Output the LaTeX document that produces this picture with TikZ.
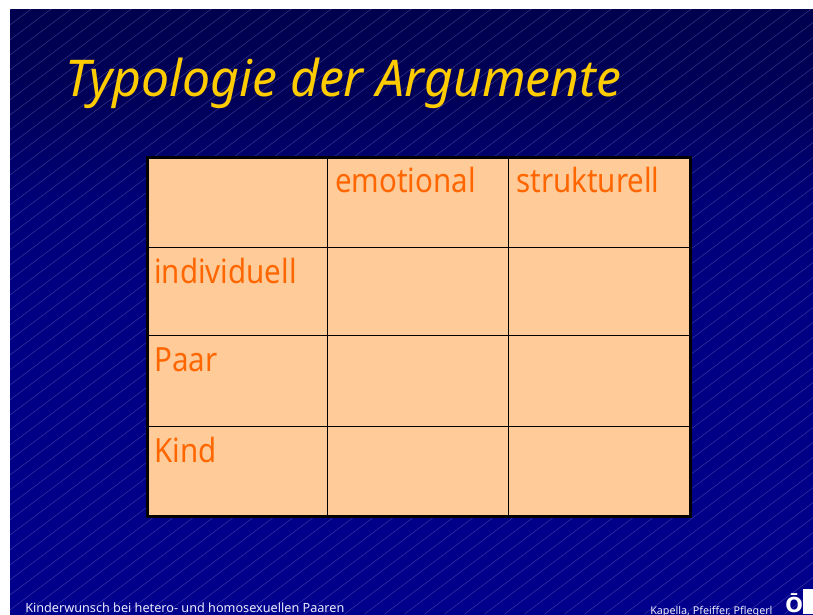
\documentclass[tikz,border=0pt]{standalone}
\usepackage{fontspec}
\setmainfont{Noto Sans}
\newfontfamily\cellfont[FakeStretch=0.885]{Noto Sans}
\newfontfamily\titlefont[FakeStretch=0.985]{Noto Sans}
\newfontfamily\logofont{DejaVu Sans}
\definecolor{titley}{HTML}{FFCC00}
\definecolor{cellf}{HTML}{FFCC99}
\definecolor{cellt}{HTML}{FF6600}
\definecolor{stripe}{HTML}{8080C0}
\pgfdeclareverticalshading{slidebg}{100bp}{
  color(0bp)=(blue!55!black);
  color(25bp)=(blue!55!black);
  color(51bp)=(blue!51!black);
  color(59bp)=(blue!47!black);
  color(67.5bp)=(blue!35!black);
  color(75bp)=(blue!31!black);
  color(100bp)=(blue!31!black)}
\tikzset{
  x=0.75pt,y=-0.75pt,
  celltext/.style={anchor=base west,inner sep=0pt,text=cellt,font=\cellfont\fontsize{25}{30}\selectfont},
  foot/.style={anchor=base west,inner sep=0pt,text=white!92!blue},
  hairline/.style={black,line width=0.75pt},
  stripeline/.style={stripe,line width=0.3pt,opacity=0.5}
}
\begin{document}
\begin{tikzpicture}
\useasboundingbox (0,0) rectangle (813,614);
\clip (0,0) rectangle (813,614);
\fill[white] (0,0) rectangle (813,614);
\shade[shading=slidebg] (10,9) rectangle (813,614);
\begin{scope}
\clip (10,9) rectangle (813,614);
\foreach \i in {-45,...,41}
  \draw[stripeline] ({\i*20+4.5},614) -- ++(840,-630);
\end{scope}
\node[anchor=base west,inner sep=0pt,text=titley,font=\titlefont\fontsize{38}{44}\selectfont\itshape] (title) at (65,96) {Typologie der Argumente};
\fill[cellf] (147,157) rectangle (690,516);
\draw[hairline] (327,157) -- (327,516);
\draw[hairline] (508,157) -- (508,516);
\draw[hairline] (147,247) -- (690,247);
\draw[hairline] (147,335) -- (690,335);
\draw[hairline] (147,426) -- (690,426);
\draw[black,line width=2.25pt] (147,157) rectangle (690,516);
\node[celltext] (c1) at (335,192) {emotional};
\node[celltext] (c2) at (516,192) {strukturell};
\node[celltext] (r1) at (154,283) {individuell};
\node[celltext] (r2) at (154,371) {Paar};
\node[celltext] (r3) at (154,462) {Kind};
\node[foot,font=\fontsize{9.5}{11}\selectfont] (f1) at (25,612) {Kinderwunsch bei hetero- und homosexuellen Paaren};
\node[foot,font=\fontsize{8.05}{9}\selectfont] (f2) at (650,614) {Kapella, Pfeiffer, Pflegerl};
\fill[white] (803,589) rectangle (813,614);
\node[anchor=base west,inner sep=0pt,text=white,font=\logofont\fontsize{15.5}{18}\selectfont\bfseries] (logo) at (785,612) {Ō};
\end{tikzpicture}
\end{document}
